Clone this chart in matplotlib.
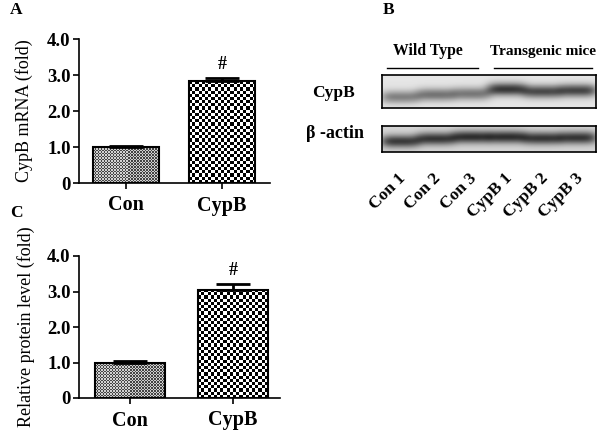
import numpy as np
import matplotlib
matplotlib.use("Agg")
import matplotlib.pyplot as plt
from matplotlib.colors import ListedColormap

plt.rcParams['font.family'] = ['Liberation Serif', 'DejaVu Serif']

# ---- data ----
groups = ["Con", "CypB"]
mrna_vals = [1.0, 2.83]
mrna_err = [0.04, 0.10]
protein_vals = [1.0, 3.05]
protein_err = [0.03, 0.17]
yticks = [0, 1, 2, 3, 4]
ytick_labels = ["0", "1.0", "2.0", "3.0", "4.0"]
lane_labels = ["Con 1", "Con 2", "Con 3", "CypB 1", "CypB 2", "CypB 3"]
cypb_band = [0.55, 0.62, 0.60, 0.95, 0.85, 0.88]
actin_band = [0.85, 0.88, 0.92, 0.92, 0.88, 0.88]
group_labels = ["Wild Type", "Transgenic mice"]

W, H = 600, 434
fig = plt.figure(figsize=(6, 4.34), dpi=100)


def ax_px(x0, y0, x1, y1):
    return fig.add_axes([x0 / W, 1 - y1 / H, (x1 - x0) / W, (y1 - y0) / H])


def checker(ax, bar, cell, c1, c2):
    fig.canvas.draw()
    bb = bar.get_window_extent()
    nx = max(1, int(round(bb.width / cell)))
    ny = max(1, int(round(bb.height / cell)))
    ii, jj = np.indices((ny, nx))
    img = ((ii + jj) % 2).astype(float)
    x, y = bar.get_x(), bar.get_y()
    w, h = bar.get_width(), bar.get_height()
    im = ax.imshow(img, extent=(x, x + w, y, y + h), cmap=ListedColormap([c1, c2]),
                   interpolation='nearest', aspect='auto', zorder=1)
    im.set_clip_path(bar)


def bar_panel(ax, vals, errs, width, xlim, ylabel, hash_off):
    x = np.arange(len(vals))
    bars = ax.bar(x, vals, width=width, facecolor='none', edgecolor='black',
                  linewidth=1.5, zorder=3)
    ax.errorbar(x, vals, yerr=[np.zeros(len(errs)), errs], fmt='none',
                ecolor='black', elinewidth=2, capsize=12, capthick=2, zorder=4)
    ax.set_xlim(*xlim)
    ax.set_ylim(0, 4)
    ax.set_yticks(yticks)
    ax.set_yticklabels(ytick_labels, fontsize=13.5, fontweight='bold')
    ax.set_xticks(x)
    ax.set_xticklabels(groups, fontsize=14.5, fontweight='bold')
    ax.tick_params(axis='y', length=4, width=1.2, pad=2)
    ax.tick_params(axis='x', length=4, width=1.2, pad=5)
    for s in ['top', 'right']:
        ax.spines[s].set_visible(False)
    for s in ['left', 'bottom']:
        ax.spines[s].set_linewidth(1.2)
    ax.set_ylabel(ylabel, fontsize=13)
    ax.text(1, vals[1] + errs[1] + hash_off, '#', ha='center', va='bottom',
            fontsize=13, fontweight='bold')
    checker(ax, bars[0], 1.5, '#444444', '#d0d0d0')
    checker(ax, bars[1], 3.2, 'black', 'white')
    ax.set_xlim(*xlim)
    ax.set_ylim(0, 4)


axA = ax_px(79, 39, 270, 183)
bar_panel(axA, mrna_vals, mrna_err, 0.69, (-0.49, 1.5), 'CypB mRNA (fold)', 0.12)
axA.yaxis.set_label_coords(-0.24, 0.5)

axC = ax_px(79, 256, 280, 398)
bar_panel(axC, protein_vals, protein_err, 0.68, (-0.5, 1.46), 'Relative protein level (fold)', 0.12)
axC.yaxis.set_label_coords(-0.22, 0.5)

fig.text(10 / W, 1 - 10 / H, 'A', fontsize=12.5, fontweight='bold', va='center', ha='left')
fig.text(10 / W, 1 - 213 / H, 'C', fontsize=12.5, fontweight='bold', va='center', ha='left')
fig.text(383 / W, 1 - 10 / H, 'B', fontsize=12.5, fontweight='bold', va='center', ha='left')


# ---- western blot ----
def blot(ax, bands, band_y, band_h, bg, yshift, strength):
    nx, ny = 214, 40
    xs = np.linspace(0, 6, nx)
    ys = np.linspace(0, 1, ny)
    X, Y = np.meshgrid(xs, ys)
    img = np.full(X.shape, bg)
    for i, b in enumerate(bands):
        cx = i + 0.5
        cy = band_y + yshift[i]
        prof = np.exp(-((X - cx) / 0.55) ** 4) * np.exp(-((Y - cy) / band_h) ** 2)
        img -= b * strength * prof
    img = np.clip(img, 0, 1)
    ax.imshow(img, cmap='gray', vmin=0, vmax=1, extent=(0, 6, 1, 0),
              aspect='auto', interpolation='bilinear')
    ax.set_xticks([])
    ax.set_yticks([])
    for s in ax.spines.values():
        s.set_linewidth(1.2)


axB1 = ax_px(382, 75, 596, 108)
blot(axB1, cypb_band, 0.55, 0.2, 0.9, [0.12, 0.05, 0.02, -0.12, -0.05, -0.08], 0.72)
axB2 = ax_px(382, 126, 596, 152)
blot(axB2, actin_band, 0.47, 0.25, 0.84, [0.12, 0.02, -0.05, -0.05, 0.0, -0.02], 0.72)

fig.text(312 / W, 1 - 93 / H, 'CypB', fontsize=12.5, fontweight='bold', va='center', ha='left')
fig.text(306 / W, 1 - 133 / H, 'β -actin', fontsize=13, fontweight='bold', va='center', ha='left')

fig.text(428 / W, 1 - 51 / H, group_labels[0], fontsize=11.3, fontweight='bold', ha='center', va='center')
fig.text(543 / W, 1 - 51 / H, group_labels[1], fontsize=11, fontweight='bold', ha='center', va='center')
fig.add_artist(plt.Line2D([387 / W, 478 / W], [1 - 68 / H, 1 - 68 / H], color='black', lw=1))
fig.add_artist(plt.Line2D([494 / W, 592 / W], [1 - 68 / H, 1 - 68 / H], color='black', lw=1))

for i, lab in enumerate(lane_labels):
    xc = (382 + (i + 0.5) * 214 / 6 + 3) / W
    fig.text(xc, 1 - 176 / H, lab, rotation=45, rotation_mode='anchor', ha='right', va='center',
             fontsize=12.5, fontweight='bold')

fig.savefig('out.png', dpi=100)
